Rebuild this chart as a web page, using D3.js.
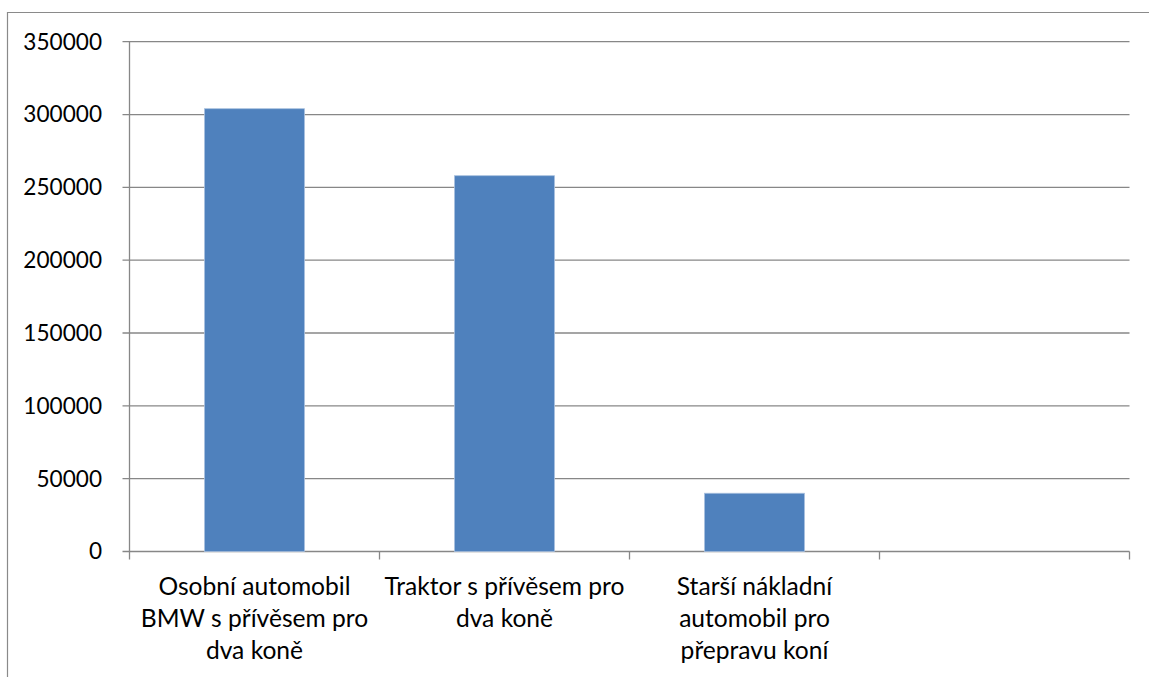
<!DOCTYPE html>
<html lang="cs">
<head>
  <meta charset="UTF-8">
  <title>Porovnání variant dopravy koní</title>
  <script src="https://d3js.org/d3.v7.min.js"></script>
  <style>
    body
    {
      margin: 0;
      background: #fff;
    }
    svg
    {
      display: block;
      font-family: Lato, "Open Sans", sans-serif;
    }
  </style>
</head>
<body>
  <svg width="1149" height="677"></svg>
  <script>
    // data
    const categories = [
      "Osobní automobil BMW s přívěsem pro dva koně",
      "Traktor s přívěsem pro dva koně",
      "Starší nákladní automobil pro přepravu koní",
      ""
    ];
    const labelLines = [
      ["Osobní automobil", "BMW s přívěsem pro", "dva koně"],
      ["Traktor s přívěsem pro", "dva koně"],
      ["Starší nákladní", "automobil pro", "přepravu koní"],
      []
    ];
    const values = [304000, 258000, 40000, null];
    const yTicks = [0, 50000, 100000, 150000, 200000, 250000, 300000, 350000];

    const width = 1149;
    const height = 677;
    const plot = { left: 129.5, right: 1129.5, top: 41.7, bottom: 551.5 };
    const gridColor = "#878787";

    const svg = d3.select("svg");

    const x = d3.scaleBand()
      .domain(categories.map((c, i) => i))
      .range([plot.left, plot.right])
      .paddingInner(0.6)
      .paddingOuter(0.3);

    // boundaries between categories, for the tick marks
    const xEdge = d3.scaleLinear()
      .domain([0, categories.length])
      .range([plot.left, plot.right]);

    const y = d3.scaleLinear()
      .domain([0, 350000])
      .range([plot.bottom, plot.top]);

    //outer chart frame (only top and left edges visible)
    svg.append("path")
      .attr("d", `M7.5,${height} V12.5 H${width}`)
      .attr("fill", "none")
      .attr("stroke", "#8a8a8a")
      .attr("stroke-width", 1.2);

    //gridlines + y ticks
    svg.append("g")
      .selectAll("line")
      .data(yTicks)
      .join("line")
      .attr("x1", plot.left - 7)
      .attr("x2", plot.right)
      .attr("y1", d => y(d))
      .attr("y2", d => y(d))
      .attr("stroke", gridColor)
      .attr("stroke-width", 1.3);

    svg.append("g")
      .selectAll("text")
      .data(yTicks)
      .join("text")
      .attr("x", 102)
      .attr("y", d => y(d))
      .attr("dy", "0.35em")
      .attr("text-anchor", "end")
      .attr("font-size", 22.6)
      .attr("fill", "#000")
      .text(d => d);

    //bars
    svg.append("g")
      .selectAll("rect")
      .data(values.map((v, i) => ({ i, v })).filter(d => d.v != null))
      .join("rect")
      .attr("x", d => x(d.i))
      .attr("width", x.bandwidth())
      .attr("y", d => y(d.v))
      .attr("height", d => y(0) - y(d.v))
      .attr("fill", "#4F81BD")
      .attr("stroke", "#A9C0DF")
      .attr("stroke-width", 0.8);

    //axes
    svg.append("line")
      .attr("x1", plot.left).attr("x2", plot.left)
      .attr("y1", plot.top).attr("y2", plot.bottom)
      .attr("stroke", gridColor)
      .attr("stroke-width", 1.3);

    svg.append("g")
      .selectAll("line")
      .data(d3.range(categories.length + 1))
      .join("line")
      .attr("x1", d => xEdge(d))
      .attr("x2", d => xEdge(d))
      .attr("y1", plot.bottom)
      .attr("y2", plot.bottom + 8)
      .attr("stroke", gridColor)
      .attr("stroke-width", 1.3);

    //category labels
    const labels = svg.append("g")
      .selectAll("text")
      .data(labelLines)
      .join("text")
      .attr("text-anchor", "middle")
      .attr("font-size", 24.6)
      .attr("fill", "#000")
      .attr("transform", (d, i) => `translate(${x(i) + x.bandwidth() / 2},595)`);

    labels.selectAll("tspan")
      .data(d => d)
      .join("tspan")
      .attr("x", 0)
      .attr("y", (d, j) => j * 32)
      .text(d => d);
  </script>
</body>
</html>
